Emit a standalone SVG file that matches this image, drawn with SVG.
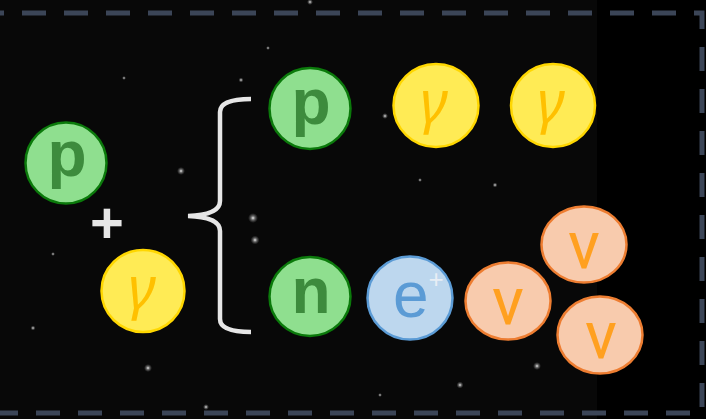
<svg xmlns="http://www.w3.org/2000/svg" width="706" height="419" viewBox="0 0 706 419">
  <defs>
    <radialGradient id="star">
      <stop offset="0" stop-color="#ffffff" stop-opacity="0.95"/>
      <stop offset="0.4" stop-color="#cccccc" stop-opacity="0.5"/>
      <stop offset="1" stop-color="#888888" stop-opacity="0"/>
    </radialGradient>
    <style>
      .green ellipse { fill: #8fdf8f; stroke: #0b7a0b; stroke-width: 2.5; }
      .green text { fill: #3d8b3d; font-family: "Liberation Sans", Arial, sans-serif; font-weight: bold; font-size: 64px; text-anchor: middle; }
      .yellow ellipse { fill: #ffeb55; stroke: #ffd700; stroke-width: 2.5; }
      .yellow text { fill: #ffc000; font-family: "Noto Sans", "DejaVu Sans", sans-serif; font-style: italic; font-size: 58px; text-anchor: middle; }
      .blue ellipse { fill: #bdd7ee; stroke: #5b9bd5; stroke-width: 2.5; }
      .blue text { fill: #5b9bd5; font-family: "Liberation Sans", Arial, sans-serif; font-size: 64px; }
      .orange ellipse { fill: #f8cbad; stroke: #ed7d31; stroke-width: 2.5; }
      .orange text { fill: #ffa020; font-family: Roboto, "Open Sans", sans-serif; font-size: 66px; text-anchor: middle; }
      .star { fill: url(#star); }
    </style>
  </defs>

  <!-- background -->
  <rect x="0" y="0" width="706" height="419" fill="#000000"/>
  <rect x="0" y="0" width="597" height="419" fill="#080808"/>
  <g id="stars">
    <circle class="star" cx="253" cy="218" r="5"/>
    <circle class="star" cx="255" cy="240" r="4.5"/>
    <circle class="star" cx="181" cy="171" r="4"/>
    <circle class="star" cx="148" cy="368" r="4"/>
    <circle class="star" cx="460" cy="385" r="3.5"/>
    <circle class="star" cx="537" cy="366" r="4"/>
    <circle class="star" cx="385" cy="116" r="3"/>
    <circle class="star" cx="310" cy="2" r="3"/>
    <circle class="star" cx="241" cy="80" r="2.5"/>
    <circle class="star" cx="495" cy="185" r="2.5"/>
    <circle class="star" cx="124" cy="78" r="2"/>
    <circle class="star" cx="206" cy="407" r="3"/>
    <circle class="star" cx="33" cy="328" r="2.5"/>
    <circle class="star" cx="53" cy="254" r="2"/>
    <circle class="star" cx="420" cy="180" r="2"/>
    <circle class="star" cx="268" cy="48" r="2"/>
    <circle class="star" cx="380" cy="395" r="2"/>
  </g>

  <!-- dashed frame -->
  <path d="M-20,13 H702 V413 H-20" fill="none" stroke="#3b4557" stroke-width="5" stroke-dasharray="24 18"/>

  <!-- connectors: plus and brace -->
  <g id="connectors">
    <text x="107" y="243" fill="#e6e6e6" font-family="Liberation Sans, Arial, sans-serif" font-weight="bold" font-size="58" text-anchor="middle">+</text>
    <path d="M251,99 Q220,99 220,112 V201 Q220,215 188,216 Q220,217 220,231 V319 Q220,332 251,332" fill="none" stroke="#e6e6e6" stroke-width="4.5"/>
  </g>

  <g id="proton-in" class="green">
    <ellipse cx="66" cy="163" rx="40.5" ry="40.5"/>
    <text x="67" y="176">p</text>
  </g>
  <g id="photon-in" class="yellow">
    <ellipse cx="143" cy="291" rx="41.5" ry="41"/>
    <text x="142" y="308">γ</text>
  </g>

  <g id="proton-out" class="green">
    <ellipse cx="310" cy="108.5" rx="40.5" ry="40.5"/>
    <text x="311" y="124">p</text>
  </g>
  <g id="photon-out-1" class="yellow">
    <ellipse cx="436" cy="105.5" rx="42.5" ry="41.5"/>
    <text x="434" y="122">γ</text>
  </g>
  <g id="photon-out-2" class="yellow">
    <ellipse cx="553" cy="105.5" rx="42" ry="41.5"/>
    <text x="551" y="122">γ</text>
  </g>

  <g id="neutron" class="green">
    <ellipse cx="310" cy="296.5" rx="40.5" ry="39.5"/>
    <text x="311" y="313">n</text>
  </g>
  <g id="positron" class="blue">
    <ellipse cx="410" cy="298" rx="42.5" ry="41.5"/>
    <text x="393" y="317">e<tspan dx="0" dy="-29" font-size="26" fill="#e8eef5">+</tspan></text>
  </g>

  <g id="neutrino-1" class="orange">
    <ellipse cx="508" cy="301" rx="42.5" ry="38.5"/>
    <text x="508" y="324">ν</text>
  </g>
  <g id="neutrino-2" class="orange">
    <ellipse cx="584" cy="244.5" rx="42.5" ry="38"/>
    <text x="584" y="268">ν</text>
  </g>
  <g id="neutrino-3" class="orange">
    <ellipse cx="600" cy="335" rx="42.5" ry="38.5"/>
    <text x="601" y="358">ν</text>
  </g>
</svg>
